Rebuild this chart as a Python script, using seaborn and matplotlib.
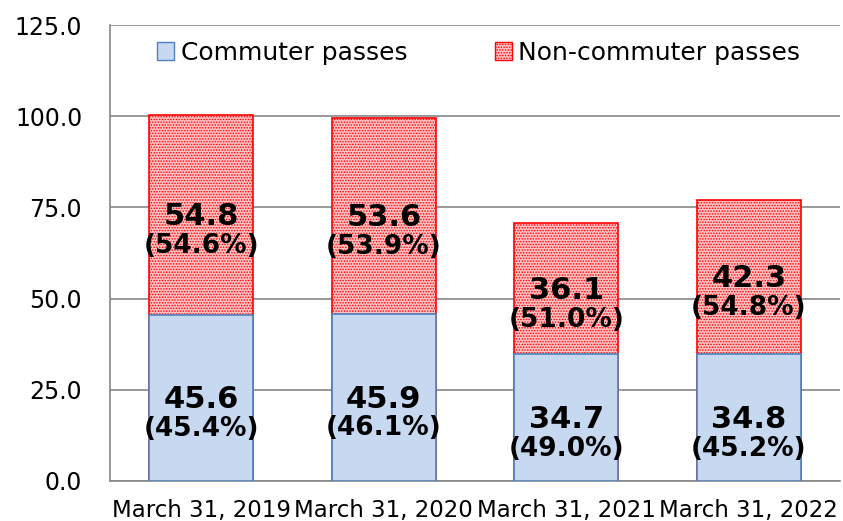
import matplotlib
matplotlib.use("Agg")
import matplotlib.pyplot as plt
from matplotlib.patches import Patch
import pandas as pd
import seaborn as sns

# values
dates = ["March 31, 2019", "March 31, 2020", "March 31, 2021", "March 31, 2022"]
commuter = [45.6, 45.9, 34.7, 34.8]
non_commuter = [54.8, 53.6, 36.1, 42.3]
commuter_pct = ["45.4%", "46.1%", "49.0%", "45.2%"]
non_commuter_pct = ["54.6%", "53.9%", "51.0%", "54.8%"]
yticks = [0, 25, 50, 75, 100, 125]

df = pd.DataFrame({
    "date": dates,
    "commuter": commuter,
    "non_commuter": non_commuter,
})
df["total"] = df["commuter"] + df["non_commuter"]

sns.set_style("white")
plt.rcParams["font.family"] = ["DejaVu Sans"]
plt.rcParams["hatch.linewidth"] = 0.7
plt.rcParams["text.color"] = "black"
plt.rcParams["xtick.labelcolor"] = "black"
plt.rcParams["ytick.labelcolor"] = "black"

fig = plt.figure(figsize=(8.43, 5.21), dpi=100)
ax = fig.add_axes([0.1305, 0.0768, 0.866, 0.875])

blue_face, blue_edge = "#c6d9f1", "#4f81bd"
red_face, red_edge = "#ffc2c2", "#ff0000"

sns.barplot(data=df, x="date", y="total", width=0.57, color=red_face, saturation=1,
            edgecolor=red_edge, linewidth=1.2, ax=ax, zorder=2)
for p in ax.patches:
    p.set_hatch("......")
sns.barplot(data=df, x="date", y="commuter", width=0.57, color=blue_face,
            saturation=1, edgecolor=blue_edge, linewidth=1.2, ax=ax, zorder=3)


def segment_label(x, mid, value, pct):
    ax.text(x, mid - 0.5, f"{value:.1f}", ha="center", va="center",
            fontsize=22, fontweight="bold", zorder=5)
    ax.text(x, mid - 8.5, f"({pct})", ha="center", va="center",
            fontsize=19, fontweight="bold", zorder=5)


for i, row in df.iterrows():
    segment_label(i, row["commuter"] / 2, row["commuter"], commuter_pct[i])
    segment_label(i, row["commuter"] + row["non_commuter"] / 2,
                  row["non_commuter"], non_commuter_pct[i])

ax.set_ylim(0, 125)
ax.set_xlim(-0.5, 3.5)
ax.set_yticks(yticks)
ax.set_yticklabels([f"{v:.1f}" for v in yticks], fontsize=17)
ax.set_xticks(range(len(dates)))
ax.set_xticklabels(dates, fontsize=16.5)
ax.set_xticks([-0.5, 0.5, 1.5, 2.5, 3.5], minor=True)
ax.tick_params(axis="x", which="major", length=0, pad=13)
ax.tick_params(axis="x", which="minor", length=6, color="#888888", width=1)
ax.tick_params(axis="y", length=7, color="#888888", width=1, pad=13)
ax.set_xlabel("")
ax.set_ylabel("")
ax.yaxis.grid(True, color="#888888", linewidth=1.2, zorder=0)
ax.set_axisbelow(True)
for side in ["top", "right"]:
    ax.spines[side].set_visible(False)
for side in ["left", "bottom"]:
    ax.spines[side].set_color("#888888")
    ax.spines[side].set_linewidth(1.2)

handles = [
    Patch(facecolor=blue_face, edgecolor=blue_edge, label="Commuter passes"),
    Patch(facecolor=red_face, edgecolor=red_edge, hatch="......", label="Non-commuter passes"),
]
ax.legend(handles=handles, loc="upper center", bbox_to_anchor=(0.505, 1.015), ncol=2,
          frameon=False, fontsize=18, handlelength=0.7, handleheight=0.7,
          handletextpad=0.25, columnspacing=3.5)

fig.savefig("out.png", dpi=100)
